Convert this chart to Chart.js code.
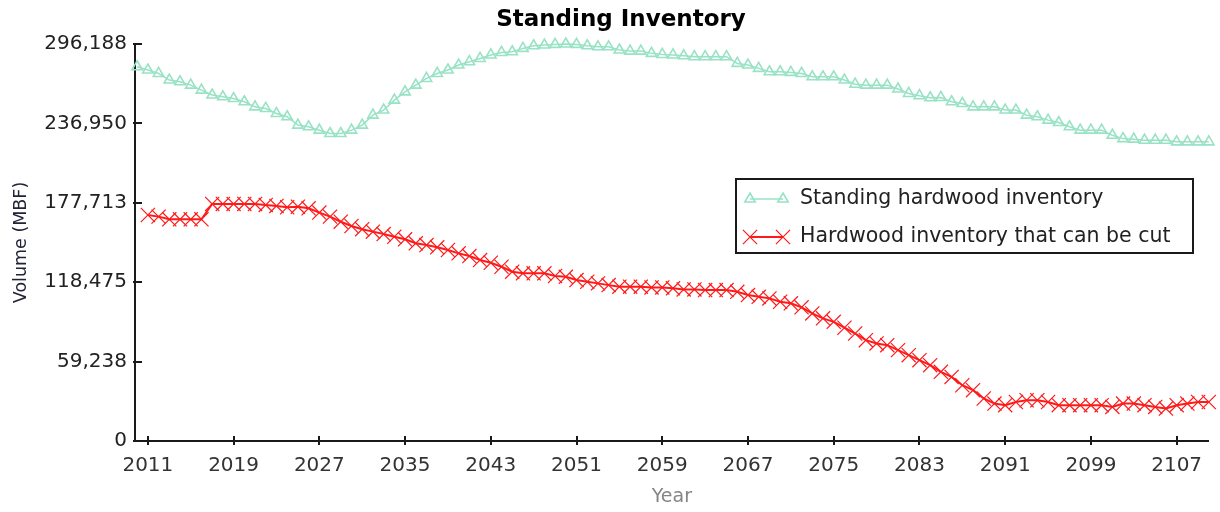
<!DOCTYPE html>
<html>
<head>
<meta charset="utf-8">
<script src="https://cdn.jsdelivr.net/npm/chart.js@4.4.1/dist/chart.umd.min.js"></script>
<style>
  html, body { margin: 0; padding: 0; background: #ffffff; }
  #wrap { width: 1220px; height: 512px; position: relative; }
</style>
</head>
<body>
<div id="wrap"><canvas id="c"></canvas></div>
<script>
// ---- data ----
const chartTitle = 'Standing Inventory';
const xAxisTitle = 'Year';
const yAxisTitle = 'Volume (MBF)';

const standingLabel = 'Standing hardwood inventory';
const cuttableLabel = 'Hardwood inventory that can be cut';

const standingFirstYear = 2010;
const cuttableFirstYear = 2011;

// Standing hardwood inventory (MBF), 2010 .. 2110
const standingValues = [
  279200, 276800, 274200, 269300, 268000, 265500, 261800, 258100, 256800, 255500,
  253100, 249300, 248100, 244300, 241900, 235700, 234400, 231900, 229400, 229400,
  231900, 235700, 243100, 246900, 254300, 260500, 265500, 270500, 274200, 276800,
  280500, 283000, 285400, 288000, 289900, 290400, 292900, 294900, 295400, 295900,
  296188, 295900, 294900, 294100, 294100, 291700, 290900, 290900, 289200, 288400,
  288000, 287400, 286700, 286700, 286700, 286700, 281700, 280500, 278000, 275500,
  275500, 275000, 274200, 271700, 271700, 271700, 269300, 266200, 265500, 265500,
  265500, 262600, 259300, 257600, 256100, 256300, 253100, 251800, 249300, 249300,
  249300, 246900, 246900, 243100, 241900, 239400, 237600, 234400, 231900, 231900,
  231900, 228100, 225600, 225200, 224400, 224400, 224400, 223200, 223200, 223200,
  223200
];

// Hardwood inventory that can be cut (MBF), 2011 .. 2110
const cuttableValues = [
  168600, 167400, 165400, 165400, 165400, 165400,
  176900, 176900, 176900, 176900, 176900,
  176100, 175400, 174400, 174800, 173600,
  170400, 167400, 163600, 160400, 158000,
  156200, 154400, 152400, 150500, 147500,
  146200, 144500, 142500, 140000, 138000,
  135000, 133000, 130000, 126300, 125100,
  125100, 125100, 123100, 122500, 120100,
  118800, 117600, 116300, 115100, 115100,
  115100, 114600, 114600, 113900, 113100,
  113100, 112600, 112600, 112600, 111300,
  108900, 107600, 106400, 103900, 102700,
  99700, 95200, 91500, 88900, 84500,
  80200, 75200, 72800, 71500, 67800,
  64000, 60300, 56600, 51600, 47800,
  41600, 37900, 31700, 27900, 26700,
  29100, 30400, 30400, 29100, 26700,
  26700, 26700, 26700, 26700, 25400,
  27900, 27900, 26700, 25400, 24200,
  26700, 27900, 29100, 29100
];

const xTickYears = [2011, 2019, 2027, 2035, 2043, 2051, 2059, 2067, 2075, 2083, 2091, 2099, 2107];
const yTickValues = [0, 59238, 118475, 177713, 236950, 296188];

// ---- build points ----
const standingPoints = standingValues.map((v, i) => ({ x: standingFirstYear + i, y: v }));
const cuttablePoints = cuttableValues.map((v, i) => ({ x: cuttableFirstYear + i, y: v }));

const GREEN = '#98e2c5';
const RED = '#ff1a1a';

Chart.defaults.font.family = "'DejaVu Sans', Verdana, sans-serif";

// Title plugin
const titlePlugin = {
  id: 'customTitle',
  afterDraw(chart) {
    const ctx = chart.ctx;
    ctx.save();
    ctx.font = "bold 23px 'DejaVu Sans', Verdana, sans-serif";
    ctx.fillStyle = '#000';
    ctx.textAlign = 'center';
    ctx.textBaseline = 'middle';
    ctx.fillText(chartTitle, 621, 20);
    ctx.restore();
  }
};

// Tick marks crossing the axes
const axisTicksPlugin = {
  id: 'axisTicks',
  afterDraw(chart) {
    const { ctx } = chart;
    const xs = chart.scales.x, ys = chart.scales.y;
    ctx.save();
    ctx.strokeStyle = '#1a1a1a';
    ctx.lineWidth = 2;
    xs.ticks.forEach(t => {
      const px = Math.round(xs.getPixelForValue(t.value));
      ctx.beginPath();
      ctx.moveTo(px, xs.top - 5);
      ctx.lineTo(px, xs.top + 4);
      ctx.stroke();
    });
    ys.ticks.forEach(t => {
      const py = Math.round(ys.getPixelForValue(t.value));
      ctx.beginPath();
      ctx.moveTo(ys.right - 2, py);
      ctx.lineTo(ys.right + 7, py);
      ctx.stroke();
    });
    ctx.restore();
  }
};

// Legend plugin (boxed legend inside the plot)
const legendPlugin = {
  id: 'boxLegend',
  afterDraw(chart) {
    const ctx = chart.ctx;
    const box = { x: 736, y: 179, w: 457, h: 74 };
    const rows = [199, 237];
    ctx.save();
    ctx.fillStyle = '#fff';
    ctx.fillRect(box.x, box.y, box.w, box.h);
    ctx.strokeStyle = '#1a1a1a';
    ctx.lineWidth = 2;
    ctx.strokeRect(box.x, box.y, box.w, box.h);
    chart.data.datasets.forEach((ds, i) => {
      const y = rows[i];
      ctx.strokeStyle = ds.borderColor;
      ctx.lineWidth = ds.borderWidth;
      ctx.beginPath();
      ctx.moveTo(750, y);
      ctx.lineTo(783, y);
      ctx.stroke();
      ctx.strokeStyle = ds.pointBorderColor;
      ctx.fillStyle = ds.pointBackgroundColor;
      ctx.lineWidth = ds.pointBorderWidth;
      [750, 783].forEach(px => {
        Chart.helpers.drawPoint(ctx, {
          pointStyle: ds.pointStyle,
          radius: ds.pointRadius,
          borderWidth: ds.pointBorderWidth,
          rotation: 0
        }, px, y);
      });
      ctx.fillStyle = '#222';
      ctx.font = "20.5px 'DejaVu Sans', Verdana, sans-serif";
      ctx.textAlign = 'left';
      ctx.textBaseline = 'middle';
      ctx.fillText(ds.label, 800, y);
    });
    ctx.restore();
  }
};

new Chart(document.getElementById('c'), {
  type: 'line',
  data: {
    datasets: [
      {
        label: standingLabel,
        data: standingPoints,
        borderColor: GREEN,
        borderWidth: 1.5,
        pointStyle: 'triangle',
        pointRadius: 6,
        pointBorderColor: GREEN,
        pointBackgroundColor: 'rgba(255,255,255,0)',
        pointBorderWidth: 1.6,
        tension: 0,
        clip: false
      },
      {
        label: cuttableLabel,
        data: cuttablePoints,
        borderColor: RED,
        borderWidth: 2,
        pointStyle: 'crossRot',
        pointRadius: 10,
        pointBorderColor: RED,
        pointBackgroundColor: RED,
        pointBorderWidth: 1.2,
        tension: 0,
        clip: false
      }
    ]
  },
  options: {
    responsive: true,
    maintainAspectRatio: false,
    animation: false,
    layout: { padding: { top: 44, right: 9, bottom: 0, left: 0 } },
    plugins: {
      legend: { display: false },
      title: { display: false },
      tooltip: { enabled: false }
    },
    scales: {
      x: {
        type: 'linear',
        min: 2009.8,
        max: 2110,
        afterBuildTicks: s => { s.ticks = xTickYears.map(v => ({ value: v })); },
        afterFit: s => { s.height = 71; },
        grid: { display: true, drawOnChartArea: false, drawTicks: false },
        border: { display: true, color: '#1a1a1a', width: 2 },
        ticks: {
          autoSkip: false,
          maxRotation: 0,
          padding: 13,
          color: '#333',
          font: { size: 20 },
          callback: v => String(v)
        },
        title: {
          display: true,
          text: xAxisTitle,
          color: '#858585',
          font: { size: 19 },
          padding: { top: 0, bottom: 4 }
        }
      },
      y: {
        min: 0,
        max: 296188,
        afterBuildTicks: s => { s.ticks = yTickValues.map(v => ({ value: v })); },
        afterFit: s => { s.width = 135; },
        grid: { display: true, drawOnChartArea: false, drawTicks: false },
        border: { display: true, color: '#1a1a1a', width: 2 },
        ticks: {
          autoSkip: false,
          padding: 8,
          color: '#222',
          font: { size: 20 },
          callback: v => Number(v).toLocaleString('en-US')
        },
        title: {
          display: true,
          text: yAxisTitle,
          color: '#222238',
          font: { size: 17.5 },
          padding: { top: 11, bottom: 0 }
        }
      }
    }
  },
  plugins: [titlePlugin, axisTicksPlugin, legendPlugin]
});
</script>
</body>
</html>
